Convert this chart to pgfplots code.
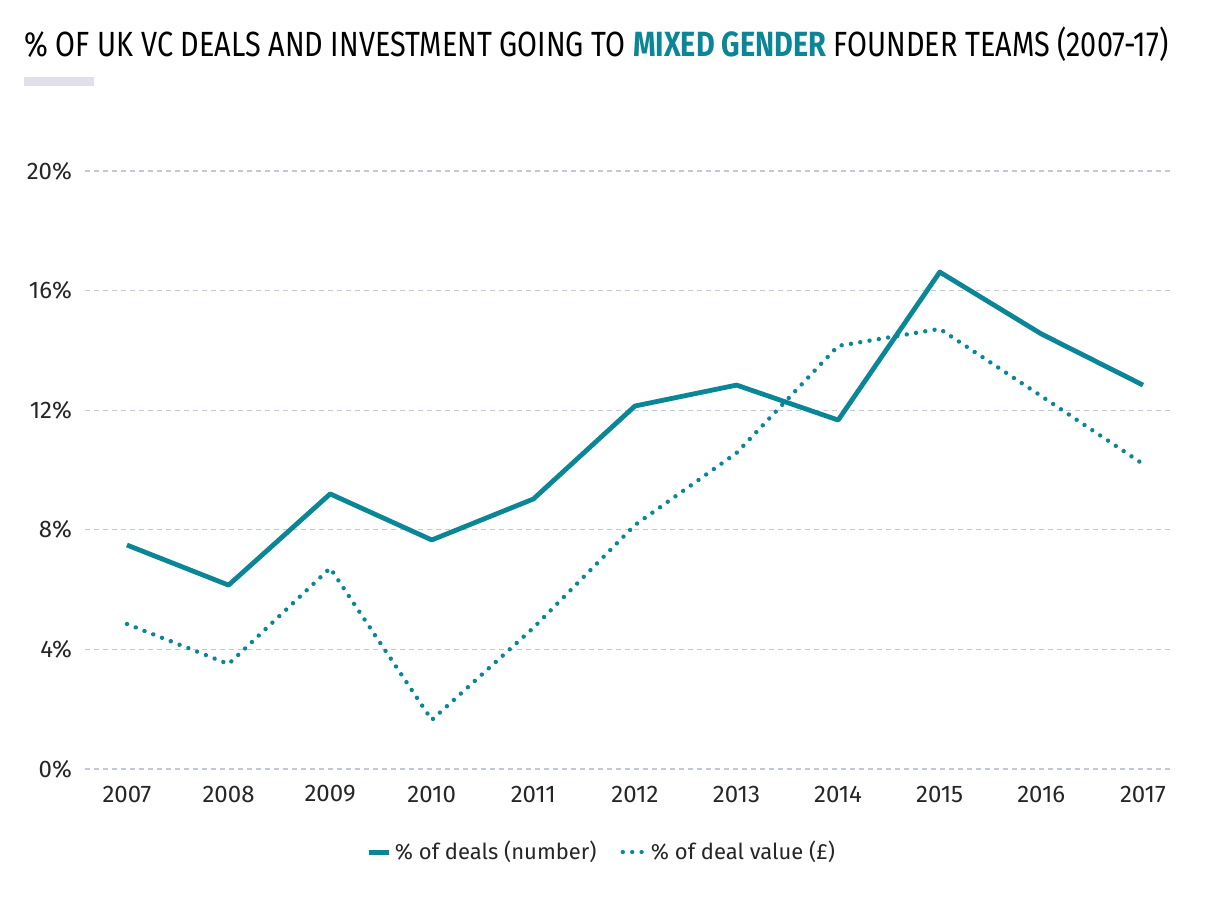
\documentclass[border=0pt]{standalone}
\usepackage{graphicx}
\usepackage{fontspec}
\setmainfont{Fira Sans}
\usepackage{pgfplots}
\pgfplotsset{compat=1.18}
\definecolor{teal}{HTML}{0A8696}
\definecolor{gridc}{HTML}{C3C8D8}
\definecolor{barc}{HTML}{E0E0EA}
\begin{document}
\begin{tikzpicture}
\path[use as bounding box] (0pt,0pt) rectangle (606pt,450pt);
\node[anchor=base west, inner sep=0pt, font=\fontsize{17.5}{20}\selectfont] at (12pt,421.5pt)
  {\resizebox{572pt}{\height}{\% OF UK VC DEALS AND INVESTMENT GOING TO \textcolor{teal}{\textbf{MIXED GENDER}} FOUNDER TEAMS (2007-17)}};
\fill[barc] (12pt,407pt) rectangle (47pt,411.5pt);
\begin{axis}[
  at={(42.5pt,65.5pt)}, anchor=south west,
  scale only axis, width=542.5pt, height=299pt,
  xmin=2006.587, xmax=2017.266, ymin=0, ymax=20,
  axis line style={draw=none},
  xtick={2007,...,2017}, ytick={0,4,...,20},
  ymajorgrids, major grid style={gridc, line width=0.6pt, dash pattern=on 2.5pt off 2pt},
  major tick length=0pt, tick style={draw=none},
  /pgf/number format/assume math mode=true,
  /pgf/number format/1000 sep={},
  tick label style={font=\fontsize{12}{14}\selectfont, text=black!85},
  yticklabel={\pgfmathprintnumber{\tick}\%},
  yticklabel style={anchor=east, xshift=-3pt},
  xticklabel style={anchor=center, yshift=-12.5pt},
  legend columns=2,
  legend style={draw=none, at={(0.477,-0.139)}, anchor=center, font=\fontsize{11}{13}\selectfont, text=black!85,
    /tikz/every even column/.append style={column sep=10pt}},
  legend cell align=left,
]
\addplot[teal, line width=2.4pt, line join=round, legend image code/.code={\draw[teal, line width=2.4pt] (0pt,0pt) -- (10pt,0pt);}]
  coordinates {(2007,7.49) (2008,6.15) (2009,9.2) (2010,7.66) (2011,9.03) (2012,12.14) (2013,12.84) (2014,11.67) (2015,16.62) (2016,14.55) (2017,12.84)};
\addlegendentry{\% of deals (number)}
\addplot[teal, line width=2.2pt, line cap=round, dash pattern=on 0.01pt off 4.7pt,
  legend image code/.code={\draw[teal, line width=2.2pt, line cap=round, dash pattern=on 0.01pt off 4.7pt] (1pt,0pt) -- (12pt,0pt);}]
  coordinates {(2007,4.85) (2008,3.51) (2009,6.72) (2010,1.64) (2011,4.72) (2012,8.16) (2013,10.57) (2014,14.15) (2015,14.72) (2016,12.47) (2017,10.2)};
\addlegendentry{\% of deal value (£)}
\end{axis}
\end{tikzpicture}
\end{document}
